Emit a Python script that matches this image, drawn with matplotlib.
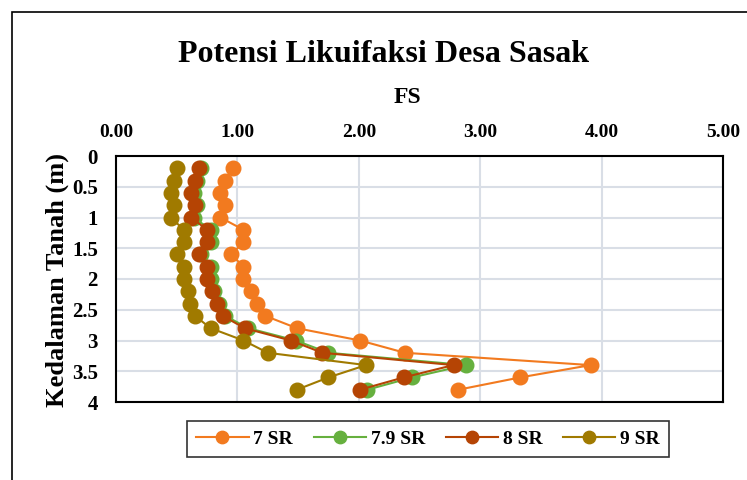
"""
Potensi likuifaksi Desa Sasak: FS vs kedalaman untuk beberapa magnitudo gempa
"""

import matplotlib.pyplot as plt
from matplotlib.patches import Rectangle

plt.rcParams["font.family"] = ["Liberation Serif", "DejaVu Serif"]
plt.rcParams["font.weight"] = "bold"

depth = [0.2, 0.4, 0.6, 0.8, 1.0, 1.2, 1.4, 1.6, 1.8, 2.0,
         2.2, 2.4, 2.6, 2.8, 3.0, 3.2, 3.4, 3.6, 3.8]

fs_7 = [0.96, 0.90, 0.86, 0.90, 0.86, 1.05, 1.05, 0.95, 1.05, 1.05,
        1.11, 1.16, 1.23, 1.49, 2.01, 2.38, 3.91, 3.33, 2.82]
fs_79 = [0.70, 0.67, 0.64, 0.67, 0.64, 0.78, 0.78, 0.70, 0.78, 0.78,
         0.81, 0.85, 0.90, 1.09, 1.48, 1.75, 2.88, 2.44, 2.07]
fs_8 = [0.68, 0.65, 0.62, 0.65, 0.62, 0.75, 0.75, 0.68, 0.75, 0.75,
        0.79, 0.83, 0.88, 1.06, 1.44, 1.70, 2.78, 2.37, 2.01]
fs_9 = [0.50, 0.48, 0.45, 0.48, 0.45, 0.56, 0.56, 0.50, 0.56, 0.56,
        0.59, 0.61, 0.65, 0.78, 1.05, 1.25, 2.06, 1.75, 1.49]

xticks = [0, 1, 2, 3, 4, 5]
yticks = [0, 0.5, 1, 1.5, 2, 2.5, 3, 3.5, 4]

series = [
    ("7 SR", fs_7, "#F27A1F"),
    ("7.9 SR", fs_79, "#66B03E"),
    ("8 SR", fs_8, "#B54404"),
    ("9 SR", fs_9, "#A07A00"),
]

fig = plt.figure(figsize=(7.47, 4.80), dpi=100)
ax = fig.add_axes([0.1553, 0.1625, 0.8126, 0.5125])

# chart area border (cut off at right and bottom like the original)
fig.patches.append(Rectangle((12 / 747, -0.1), 1.2, 1 - 12 / 480 + 0.1,
                             transform=fig.transFigure, fill=False,
                             edgecolor="black", linewidth=1.2))

lines = []
for label, vals, color in series:
    (ln,) = ax.plot(vals, depth, color=color, linewidth=1.5, marker="o",
                    markersize=10.5, markeredgecolor=color, label=label)
    lines.append(ln)

ax.set_xlim(0, 5)
ax.set_ylim(4, 0)
ax.set_xticks(xticks)
ax.set_xticklabels([f"{v:.2f}" for v in xticks])
ax.set_yticks(yticks)
ax.set_yticklabels([f"{v:g}" for v in yticks])
ax.xaxis.tick_top()
ax.tick_params(axis="both", length=0)
ax.tick_params(axis="x", pad=10.5, labelsize=14)
ax.tick_params(axis="y", pad=13, labelsize=15)
ax.grid(True, color="#D9DEE6", linewidth=1.5)
ax.set_axisbelow(True)
for sp in ax.spines.values():
    sp.set_linewidth(1.5)

ax.set_ylabel("Kedalaman Tanah (m)", fontsize=19, fontweight="bold")
ax.yaxis.set_label_coords(-0.0774, 0.496)

fig.text(407 / 747, 1 - 103 / 480, "FS", fontsize=17, fontweight="bold",
         ha="center", va="baseline")
fig.text(384 / 747, 1 - 62 / 480, "Potensi Likuifaksi Desa Sasak",
         fontsize=23, fontweight="bold", ha="center", va="baseline")

leg = fig.legend(handles=lines, loc="center", bbox_to_anchor=(0.573, 0.0854),
                 ncol=4, frameon=True, fancybox=False, edgecolor="black",
                 prop={"size": 14, "weight": "bold"}, handlelength=2.7,
                 markerscale=0.85, columnspacing=1.05, handletextpad=0.25,
                 borderpad=0.45, borderaxespad=0)
leg.get_frame().set_linewidth(1.2)

fig.savefig("out.png", dpi=100)
